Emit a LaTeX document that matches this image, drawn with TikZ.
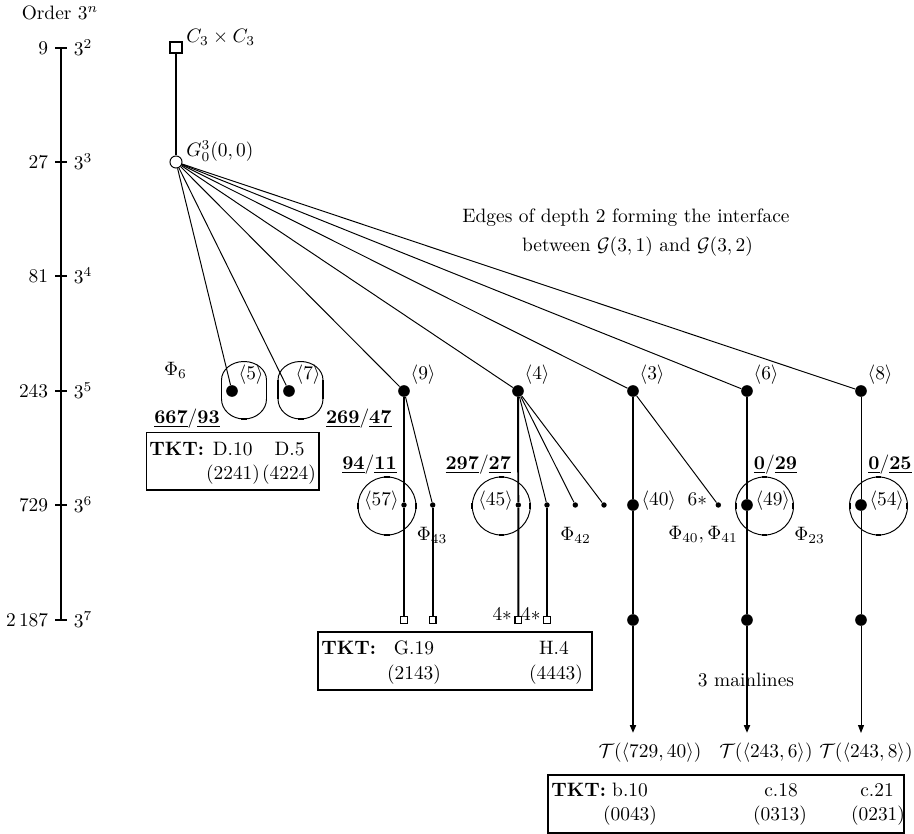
\documentclass[tikz,border=0pt]{standalone}
\usepackage{amsmath}
\usetikzlibrary{arrows.meta}
\tikzset{
  bigdot/.style={circle, fill, inner sep=0pt, minimum size=6pt},
  smalldot/.style={circle, fill, inner sep=0pt, minimum size=2.8pt},
  opendot/.style={circle, draw, line width=0.5pt, inner sep=0pt, minimum size=6.2pt},
  topsq/.style={rectangle, draw, line width=1pt, inner sep=0pt, minimum size=6pt},
  leafsq/.style={rectangle, draw, line width=0.8pt, inner sep=0pt, minimum size=3.4pt},
  thickedge/.style={line width=1pt},
  thinedge/.style={line width=0.5pt},
  tktbox/.style={draw, line width=0.8pt},
  lbl/.style={inner sep=1pt},
  tip/.style={-{Triangle[length=4pt,width=3pt]}}
}
\begin{document}
\begin{tikzpicture}[x=0.5155pt, y=-0.5155pt]
  \useasboundingbox (0,0) rectangle (914,834);

  % order axis
  \node (ordertitle) at (60,13) {Order $3^n$};
  \foreach \y/\n/\e in {48/9/2, 162/27/3, 276/81/4, 391/243/5, 505/729/6, 620/2\,187/7} {
    \coordinate (tick\e) at (61,\y);
    \draw[thickedge] (55,\y) -- (67,\y);
    \node[anchor=east] (ord\e) at (55,\y) {$\n$};
    \node[anchor=west] (pow\e) at (67,\y) {$3^{\e}$};
  }
  \draw[thickedge] (tick2) -- (tick7);

  % root and its parent
  \node[topsq] (c33) at (176,47.5) {};
  \node[lbl, anchor=west] (c33lbl) at (184,37) {$C_3\times C_3$};
  \node[opendot] (g27) at (176,162) {};
  \node[lbl, anchor=west] (g27lbl) at (184,151) {$G^3_0(0,0)$};
  \draw[thickedge] (c33) -- (g27);

  \node (edgetxta) at (626,218) {Edges of depth 2 forming the interface};
  \node (edgetxtb) at (637.5,247) {between $\mathcal{G}(3,1)$ and $\mathcal{G}(3,2)$};

  % vertices of order 243
  \foreach \k/\x in {5/232, 7/289, 9/404, 4/518, 3/633, 6/747, 8/861} {
    \node[bigdot, label={[lbl, anchor=south west]north east:$\langle\k\rangle$}] (d\k) at (\x,391) {};
    \draw[thinedge] (g27) -- (d\k);
  }

  % capsules round <5> and <7>
  \foreach \cx in {244, 300.5} {
    \draw[thinedge] (\cx-22.5,380) -- (\cx-22.5,399)
      arc[start angle=180, end angle=0, x radius=22.5, y radius=20]
      -- (\cx+22.5,380)
      arc[start angle=0, end angle=-180, x radius=22.5, y radius=18.5];
    \draw[thickedge] (\cx-22.5,380) -- (\cx-22.5,399);
    \draw[thickedge] (\cx+22.5,380) -- (\cx+22.5,399);
    \draw[thickedge] (\cx-3,419) -- (\cx+3,419);
    \draw[thickedge] (\cx-3,361.5) -- (\cx+3,361.5);
  }
  \node (phi6) at (175.5,370) {$\Phi_6$};

  \node (q667) at (187,419) {$\underline{\mathbf{667}}/\underline{\mathbf{93}}$};
  \node (q269) at (358.8,419) {$\underline{\mathbf{269}}/\underline{\mathbf{47}}$};
  \node (q94) at (369.5,464.5) {$\underline{\mathbf{94}}/\underline{\mathbf{11}}$};
  \node (q297) at (478.3,464.5) {$\underline{\mathbf{297}}/\underline{\mathbf{27}}$};
  \node (q029) at (775.5,464.5) {$\underline{\mathbf{0}}/\underline{\mathbf{29}}$};
  \node (q025) at (890,464.5) {$\underline{\mathbf{0}}/\underline{\mathbf{25}}$};

  % TKT box for D.10, D.5
  \draw[tktbox] (146.7,432.3) rectangle (319,490);
  \node[lbl, anchor=west] (tktd) at (147,449) {\textbf{TKT:}};
  \node (tktd10) at (232.7,449) {D.10};
  \node (tktd5) at (289.5,449) {D.5};
  \node (tktd2241) at (233,475) {(2241)};
  \node (tktd4224) at (289,475) {(4224)};

  % rings round the vertices of order 729
  \foreach \cx in {387, 501.3, 764.5, 878.5} {
    \draw[thinedge] (\cx,506) circle[radius=29];
    \foreach \a in {0,90,180,270}
      \draw[thickedge] (\cx,506) ++(\a-5:29) arc[start angle=\a-5, end angle=\a+5, radius=29];
  }

  % vertices of order 729
  \node[smalldot, label={[lbl, anchor=base east]west:$\langle 57\rangle$}] (e9a) at (404,505) {};
  \node[smalldot] (e9b) at (432.7,505) {};
  \node[smalldot, label={[lbl, anchor=base east]west:$\langle 45\rangle$}] (e4a) at (518.3,505) {};
  \node[smalldot] (e4b) at (547,505) {};
  \node[smalldot] (e4c) at (575.3,505) {};
  \node[smalldot] (e4d) at (604,505) {};
  \node[bigdot, label={[lbl, anchor=base west]east:$\langle 40\rangle$}] (e3a) at (633,505) {};
  \node[smalldot, label={[lbl, anchor=base east, xshift=-3pt]west:$6*$}] (e3b) at (718.3,505) {};
  \node[bigdot, label={[lbl, anchor=base west]east:$\langle 49\rangle$}] (e6) at (747,505) {};
  \node[bigdot, label={[lbl, anchor=base west]east:$\langle 54\rangle$}] (e8) at (861,505) {};

  \node (phi43) at (432,535) {$\Phi_{43}$};
  \node (phi42) at (575.5,535) {$\Phi_{42}$};
  \node (phi4041) at (703,535) {$\Phi_{40},\Phi_{41}$};
  \node (phi23) at (809.5,535) {$\Phi_{23}$};

  % vertices of order 2187
  \node[leafsq] (f9a) at (404,620) {};
  \node[leafsq] (f9b) at (432.7,620) {};
  \node[leafsq, label={[lbl, anchor=base east]west:$4*$}] (f4a) at (518.3,620) {};
  \node[leafsq, label={[lbl, anchor=base east]west:$4*$}] (f4b) at (547,620) {};
  \node[bigdot] (f3) at (633,620) {};
  \node[bigdot] (f6) at (747,620) {};
  \node[bigdot] (f8) at (861,620) {};
  \coordinate (t3) at (633,733);
  \coordinate (t6) at (747,733);
  \coordinate (t8) at (861,733);

  % edges of depth 1
  \draw[thickedge] (d9) -- (e9a) -- (f9a);
  \draw[thinedge] (d9) -- (e9b);
  \draw[thickedge] (e9b) -- (f9b);
  \draw[thickedge] (d4) -- (e4a) -- (f4a);
  \foreach \s in {b,c,d}
    \draw[thinedge] (d4) -- (e4\s);
  \draw[thickedge] (e4b) -- (f4b);
  \draw[thinedge] (d3) -- (e3b);
  \draw[thickedge, tip] (d3) -- (e3a) -- (f3) -- (t3);
  \draw[thickedge, tip] (d6) -- (e6) -- (f6) -- (t6);
  \draw[thinedge, tip] (d8) -- (e8) -- (f8) -- (t8);

  % TKT box for G.19, H.4
  \draw[tktbox] (318,632) rectangle (592,690);
  \node[lbl, anchor=west] (tktg) at (319,648) {\textbf{TKT:}};
  \node (tktg19) at (414,648) {G.19};
  \node (tkth4) at (554,648) {H.4};
  \node (tktg2143) at (414,675) {(2143)};
  \node (tkth4443) at (556,675) {(4443)};

  \node (mainlines) at (746,680) {3 mainlines};
  \node (tree3) at (650,753) {$\mathcal{T}(\langle 729,40\rangle)$};
  \node (tree6) at (766,753) {$\mathcal{T}(\langle 243,6\rangle)$};
  \node (tree8) at (866,753) {$\mathcal{T}(\langle 243,8\rangle)$};

  % TKT box for the mainlines
  \draw[tktbox] (548,775) rectangle (904,833);
  \node[lbl, anchor=west] (tktb) at (549,790) {\textbf{TKT:}};
  \node (tktb10) at (630,790) {b.10};
  \node (tktc18) at (781,790) {c.18};
  \node (tktc21) at (877,790) {c.21};
  \node (tktb0043) at (630,816) {(0043)};
  \node (tktc0313) at (780,816) {(0313)};
  \node (tktc0231) at (878,816) {(0231)};
\end{tikzpicture}
\end{document}
